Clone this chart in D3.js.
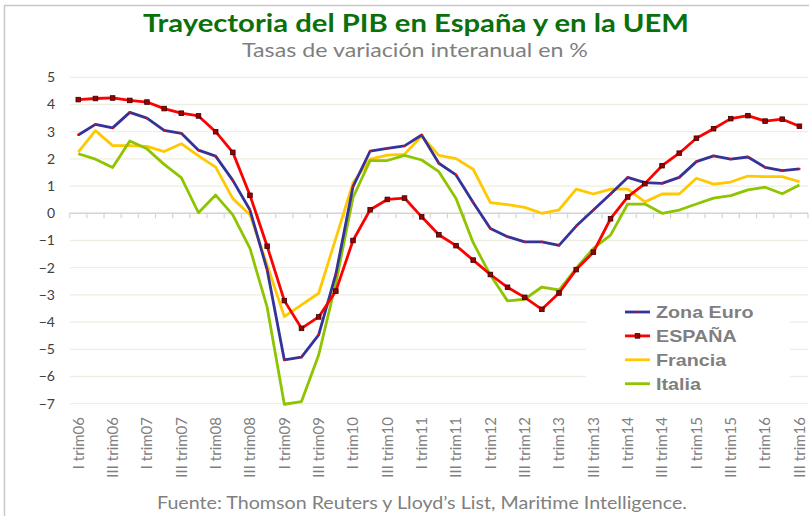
<!DOCTYPE html>
<html>
<head>
<meta charset="utf-8">
<script src="https://cdn.jsdelivr.net/npm/d3@7"></script>
<style>
  body { margin: 0; background: #fff; }
  svg { display: block; }
</style>
</head>
<body>
<div id="chart"></div>
<script>
// quarters I trim06 .. III trim16
var years = ['06', '07', '08', '09', '10', '11', '12', '13', '14', '15', '16'];
var quarterNames = ['I', 'II', 'III', 'IV'];
var categories = [];
years.forEach(function(y) {
  quarterNames.forEach(function(q) { categories.push(q + ' trim' + y); });
});
categories = categories.slice(0, 43);

var tickLabels = ['I trim06', 'III trim06', 'I trim07', 'III trim07', 'I trim08', 'III trim08',
  'I trim09', 'III trim09', 'I trim10', 'III trim10', 'I trim11', 'III trim11', 'I trim12',
  'III trim12', 'I trim13', 'III trim13', 'I trim14', 'III trim14', 'I trim15', 'III trim15',
  'I trim16', 'III trim16'];

var yTicks = [5, 4, 3, 2, 1, 0, -1, -2, -3, -4, -5, -6, -7];

var zonaEuro = [2.88, 3.27, 3.14, 3.71, 3.50, 3.05, 2.94, 2.32, 2.10, 1.21, 0.12, -2.08, -5.39,
  -5.29, -4.47, -2.24, 0.98, 2.29, 2.39, 2.48, 2.88, 1.84, 1.41, 0.40, -0.56, -0.86, -1.05,
  -1.05, -1.18, -0.47, 0.12, 0.71, 1.32, 1.13, 1.10, 1.32, 1.90, 2.11, 1.99, 2.07, 1.69, 1.57, 1.63];

var espana = [4.18, 4.22, 4.24, 4.15, 4.09, 3.85, 3.68, 3.58, 3.00, 2.24, 0.66, -1.21, -3.21,
  -4.23, -3.81, -2.86, -1.00, 0.13, 0.51, 0.56, -0.13, -0.79, -1.19, -1.72, -2.25, -2.72, -3.09,
  -3.53, -2.93, -2.07, -1.43, -0.20, 0.60, 1.09, 1.75, 2.21, 2.76, 3.11, 3.48, 3.59, 3.39, 3.46, 3.20];

var francia = [2.25, 3.04, 2.49, 2.49, 2.46, 2.27, 2.56, 2.11, 1.70, 0.54, -0.05, -1.9, -3.80,
  -3.37, -2.94, -0.92, 1.12, 1.99, 2.14, 2.17, 2.84, 2.13, 2.01, 1.62, 0.39, 0.32, 0.22,
  0.00, 0.13, 0.89, 0.71, 0.89, 0.89, 0.42, 0.71, 0.71, 1.29, 1.07, 1.15, 1.37, 1.35, 1.35, 1.16];

var italia = [2.19, 1.99, 1.68, 2.66, 2.37, 1.80, 1.31, 0.02, 0.67, -0.06, -1.29, -3.45, -7.02,
  -6.92, -5.21, -2.57, 0.58, 1.94, 1.94, 2.13, 1.96, 1.53, 0.54, -1.08, -2.27, -3.22, -3.16,
  -2.71, -2.82, -2.02, -1.29, -0.80, 0.34, 0.34, 0.00, 0.12, 0.34, 0.56, 0.65, 0.86, 0.96, 0.72, 1.04];

var series = [
  { name: 'Francia', values: francia, color: '#ffc800', marker: 'none' },
  { name: 'Italia', values: italia, color: '#8fc400', marker: 'none' },
  { name: 'Zona Euro', values: zonaEuro, color: '#333399', marker: 'dot' },
  { name: 'ESPAÑA', values: espana, color: '#ff0000', marker: 'square' }
];
var legendOrder = ['Zona Euro', 'ESPAÑA', 'Francia', 'Italia'];

var W = 809, H = 516;
var svg = d3.select('#chart').append('svg')
  .attr('width', W).attr('height', H);

svg.append('rect').attr('width', W).attr('height', H).attr('fill', '#fff');

// frame
svg.append('path')
  .attr('d', 'M4.5,' + H + 'V5.5H' + W)
  .attr('fill', 'none')
  .attr('stroke', '#c8c8c8')
  .attr('stroke-width', 1.5);

// titles
svg.append('text')
  .attr('x', 416).attr('y', 32)
  .attr('text-anchor', 'middle')
  .attr('textLength', 546).attr('lengthAdjust', 'spacingAndGlyphs')
  .style('font-family', 'Lato, "Open Sans", sans-serif')
  .style('font-weight', 'bold')
  .style('font-size', '25px')
  .attr('fill', '#0a700a')
  .text('Trayectoria del PIB en España y en la UEM');

svg.append('text')
  .attr('x', 415).attr('y', 57)
  .attr('text-anchor', 'middle')
  .attr('textLength', 346).attr('lengthAdjust', 'spacingAndGlyphs')
  .style('font-family', 'Lato, "Open Sans", sans-serif')
  .style('font-size', '19px')
  .attr('fill', '#7f7f7f')
  .text('Tasas de variación interanual en %');

svg.append('text')
  .attr('x', 422).attr('y', 509)
  .attr('text-anchor', 'middle')
  .attr('textLength', 530).attr('lengthAdjust', 'spacingAndGlyphs')
  .style('font-family', 'Lato, "Open Sans", sans-serif')
  .style('font-size', '18px')
  .attr('fill', '#7f7f7f')
  .text('Fuente: Thomson Reuters y Lloyd\u2019s List, Maritime Intelligence.');

// scales
var x = d3.scaleBand().domain(categories).range([69.7, 808]).padding(0);
var y = d3.scaleLinear().domain([-7, 5]).range([403.7, 77.3]);
var cx = function(c) { return x(c) + x.bandwidth() / 2; };

// gridlines
svg.append('g').selectAll('line')
  .data(yTicks.filter(function(d) { return d !== 0; }))
  .join('line')
  .attr('x1', 69.7).attr('x2', 808)
  .attr('y1', function(d) { return y(d); })
  .attr('y2', function(d) { return y(d); })
  .attr('stroke', '#eeeee2')
  .attr('stroke-width', 1.3);

// y axis labels
var yAxis = svg.append('g')
  .attr('transform', 'translate(59,0)')
  .call(d3.axisLeft(y).tickValues(yTicks).tickSize(0).tickPadding(4).tickFormat(d3.format('d')));
yAxis.select('.domain').remove();
yAxis.selectAll('text')
  .style('font-family', 'Lato, "Open Sans", sans-serif')
  .style('font-size', '14px')
  .attr('fill', '#404040');

// zero axis with category-boundary ticks
var zeroY = y(0);
svg.append('line')
  .attr('x1', 69.7).attr('x2', 808)
  .attr('y1', zeroY).attr('y2', zeroY)
  .attr('stroke', '#d4d4d4').attr('stroke-width', 1.5);
svg.append('g').selectAll('line')
  .data(categories.concat(['end']))
  .join('line')
  .attr('x1', function(c, i) { return i < categories.length ? x(c) : x.range()[1]; })
  .attr('x2', function(c, i) { return i < categories.length ? x(c) : x.range()[1]; })
  .attr('y1', zeroY).attr('y2', zeroY + 5)
  .attr('stroke', '#d4d4d4').attr('stroke-width', 1.2);

// x tick labels
var xAxis = svg.append('g')
  .attr('transform', 'translate(0,413)')
  .call(d3.axisBottom(x).tickValues(tickLabels).tickSize(0).tickPadding(0));
xAxis.select('.domain').remove();
xAxis.selectAll('text')
  .attr('transform', 'rotate(-90)')
  .attr('text-anchor', 'end')
  .attr('x', -4).attr('y', 0).attr('dy', '0.35em')
  .style('font-family', 'Lato, "Open Sans", sans-serif')
  .style('font-size', '15px')
  .attr('fill', '#7f7f7f');

// legend background (covers gridlines like the original)
svg.append('rect')
  .attr('x', 586).attr('y', 300).attr('width', 204).attr('height', 95)
  .attr('fill', '#fff');

// lines
var line = d3.line()
  .x(function(d, i) { return cx(categories[i]); })
  .y(function(d) { return y(d); });

series.forEach(function(s) {
  svg.append('path')
    .datum(s.values)
    .attr('d', line)
    .attr('fill', 'none')
    .attr('stroke', s.color)
    .attr('stroke-width', 2.8)
    .attr('stroke-linejoin', 'round');

  if (s.marker === 'dot') {
    svg.append('g').selectAll('rect')
      .data(s.values)
      .join('rect')
      .attr('x', function(d, i) { return cx(categories[i]) - 1; })
      .attr('y', function(d) { return y(d) - 1; })
      .attr('width', 2).attr('height', 2)
      .attr('fill', '#ff0000');
  } else if (s.marker === 'square') {
    svg.append('g').selectAll('rect')
      .data(s.values)
      .join('rect')
      .attr('x', function(d, i) { return cx(categories[i]) - 2.3; })
      .attr('y', function(d) { return y(d) - 2.3; })
      .attr('width', 4.6).attr('height', 4.6)
      .attr('fill', '#990000')
      .attr('stroke', '#3a0000')
      .attr('stroke-width', 0.8);
  }
});

// legend
var legend = svg.append('g');
legendOrder.forEach(function(name, i) {
  var s = series.find(function(d) { return d.name === name; });
  var ly = 312 + i * 23.9;
  legend.append('line')
    .attr('x1', 625).attr('x2', 650)
    .attr('y1', ly).attr('y2', ly)
    .attr('stroke', s.color).attr('stroke-width', 2.8);
  if (s.marker === 'dot') {
    legend.append('rect').attr('x', 636.5).attr('y', ly - 1).attr('width', 2).attr('height', 2)
      .attr('fill', '#ff0000');
  } else if (s.marker === 'square') {
    legend.append('rect').attr('x', 635.2).attr('y', ly - 2.3).attr('width', 4.6).attr('height', 4.6)
      .attr('fill', '#990000').attr('stroke', '#3a0000').attr('stroke-width', 0.8);
  }
  legend.append('text')
    .attr('transform', 'translate(656,' + ly + ') scale(1.16,1)')
    .attr('dy', '0.36em')
    .style('font-family', '"Liberation Sans", Arial, sans-serif')
    .style('font-weight', 'bold')
    .style('font-size', '17px')
    .attr('fill', '#7f7f7f')
    .text(name);
});
</script>
</body>
</html>
